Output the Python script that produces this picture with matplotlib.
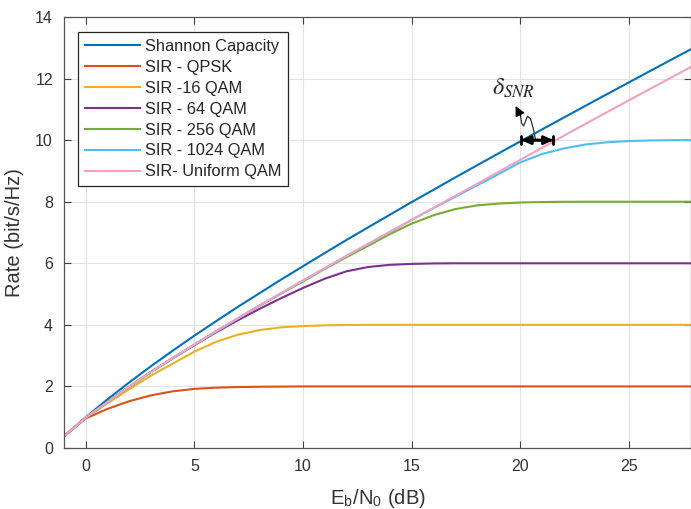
import matplotlib
matplotlib.use("Agg")
import matplotlib.pyplot as plt

plt.rcParams['font.family'] = ['Liberation Sans', 'DejaVu Sans']
plt.rcParams['mathtext.fontset'] = 'stix'

# ---- data ----
snr_db = [-1, 0, 1, 2, 3, 4, 5, 6, 7, 8, 9, 10, 11, 12, 13, 14, 15, 16, 17, 18,
          19, 20, 21, 22, 23, 24, 25, 26, 27, 28]
shannon = [0.38, 1.00, 1.58, 2.13, 2.655, 3.16, 3.65, 4.12, 4.585, 5.03, 5.475, 5.905,
           6.335, 6.758, 7.17, 7.58, 7.988, 8.388, 8.787, 9.18, 9.572, 9.961, 10.35,
           10.733, 11.118, 11.499, 11.878, 12.258, 12.635, 13.01]
qpsk = [0.38, 0.96, 1.27, 1.52, 1.71, 1.84, 1.92, 1.96, 1.98, 1.99, 1.995, 2.0, 2.0, 2.0,
        2.0, 2.0, 2.0, 2.0, 2.0, 2.0, 2.0, 2.0, 2.0, 2.0, 2.0, 2.0, 2.0, 2.0, 2.0, 2.0]
qam16 = [0.38, 0.98, 1.45, 1.91, 2.35, 2.74, 3.13, 3.45, 3.68, 3.83, 3.92, 3.96, 3.985,
         3.995, 4.0, 4.0, 4.0, 4.0, 4.0, 4.0, 4.0, 4.0, 4.0, 4.0, 4.0, 4.0, 4.0, 4.0, 4.0, 4.0]
qam64 = [0.38, 0.99, 1.49, 1.99, 2.47, 2.91, 3.34, 3.76, 4.15, 4.52, 4.87, 5.2, 5.5, 5.74,
         5.88, 5.95, 5.98, 5.995, 6.0, 6.0, 6.0, 6.0, 6.0, 6.0, 6.0, 6.0, 6.0, 6.0, 6.0, 6.0]
qam256 = [0.38, 0.99, 1.49, 1.99, 2.47, 2.92, 3.36, 3.79, 4.21, 4.62, 5.02, 5.41, 5.82,
          6.2, 6.57, 6.95, 7.29, 7.56, 7.76, 7.88, 7.94, 7.975, 7.99, 7.997, 8.0, 8.0,
          8.0, 8.0, 8.0, 8.0]
qam1024 = [0.38, 0.99, 1.49, 1.99, 2.47, 2.92, 3.36, 3.79, 4.21, 4.63, 5.03, 5.44, 5.84,
           6.24, 6.63, 7.02, 7.41, 7.79, 8.16, 8.53, 8.90, 9.28, 9.55, 9.73, 9.86, 9.93,
           9.97, 9.99, 10.0, 10.0]
uniform = [0.38, 0.99, 1.49, 1.99, 2.47, 2.92, 3.36, 3.79, 4.21, 4.63, 5.03, 5.44, 5.84,
           6.24, 6.63, 7.02, 7.41, 7.80, 8.19, 8.576, 8.972, 9.364, 9.755, 10.144, 10.53,
           10.914, 11.297, 11.677, 12.057, 12.435]

labels = ['Shannon Capacity', 'SIR - QPSK', 'SIR -16 QAM', 'SIR - 64 QAM',
          'SIR - 256 QAM', 'SIR - 1024 QAM', 'SIR- Uniform QAM']
colors = ['#0072BD', '#D95319', '#EDB120', '#7E2F8E', '#77AC30', '#4DBEEE', '#F4A0C4']
series = [shannon, qpsk, qam16, qam64, qam256, qam1024, uniform]

xticks = [0, 5, 10, 15, 20, 25]
yticks = [0, 2, 4, 6, 8, 10, 12, 14]

# ---- figure ----
W, H = 691, 509
fig = plt.figure(figsize=(W / 100, H / 100), dpi=100)
ax = fig.add_axes([64 / W, 1 - 448 / H, 627 / W, 431 / H])

for ys, c, lab in zip(series, colors, labels):
    ax.plot(snr_db, ys, color=c, lw=1.5, label=lab)

ax.set_xlim(-1, 27.85)
ax.set_ylim(0, 14)
ax.set_xticks(xticks)
ax.set_yticks(yticks)
ax.grid(True, color='#e3e3e3', lw=0.8)
ax.set_axisbelow(True)
ax.tick_params(direction='in', length=5, width=0.8, colors='#404040',
               labelcolor='#333333', labelsize=11.5, top=True, right=True, pad=8)
for s in ax.spines.values():
    s.set_color('#555555')
    s.set_linewidth(0.9)

ax.set_xlabel(r'E$_\mathregular{b}$/N$_\mathregular{0}$ (dB)', fontsize=14.5,
              color='#333333', labelpad=9)
ax.set_ylabel('Rate (bit/s/Hz)', fontsize=14.5, color='#333333', labelpad=8)

leg = ax.legend(loc='upper left', bbox_to_anchor=(0.0223, 0.965), borderaxespad=0,
                fontsize=11.8, handlelength=3.35, handletextpad=0.3, labelspacing=0.36,
                borderpad=0.42, fancybox=False, framealpha=1, edgecolor='#262626')
leg.get_frame().set_linewidth(0.9)
for t in leg.get_texts():
    t.set_color('#262626')

# delta SNR annotation
ax.text(19.69, 11.46, r'$\delta_{SNR}$', fontsize=17.5, ha='center', va='baseline',
        color='#262626')
ax.annotate('', xy=(21.52, 10), xytext=(20.04, 10),
            arrowprops=dict(arrowstyle='<|-|>,head_length=0.55,head_width=0.25',
                            color='black', lw=2, shrinkA=0, shrinkB=0))
ax.annotate('', xy=(21.52, 10), xytext=(20.04, 10),
            arrowprops=dict(arrowstyle='|-|,widthA=0.3,widthB=0.3',
                            color='black', lw=2, shrinkA=0, shrinkB=0))
sq_x = [20.70, 20.61, 20.47, 20.33, 20.24, 20.15, 20.05, 20.01]
sq_y = [10.00, 10.33, 10.69, 10.78, 10.62, 10.46, 10.56, 10.78]
ax.plot(sq_x, sq_y, color='#333333', lw=0.9)
ax.annotate('', xy=(19.78, 11.11), xytext=(20.01, 10.78),
            arrowprops=dict(arrowstyle='-|>,head_length=0.6,head_width=0.3',
                            color='black', lw=0.9, shrinkA=0, shrinkB=0))

fig.savefig('out.png', dpi=100)
